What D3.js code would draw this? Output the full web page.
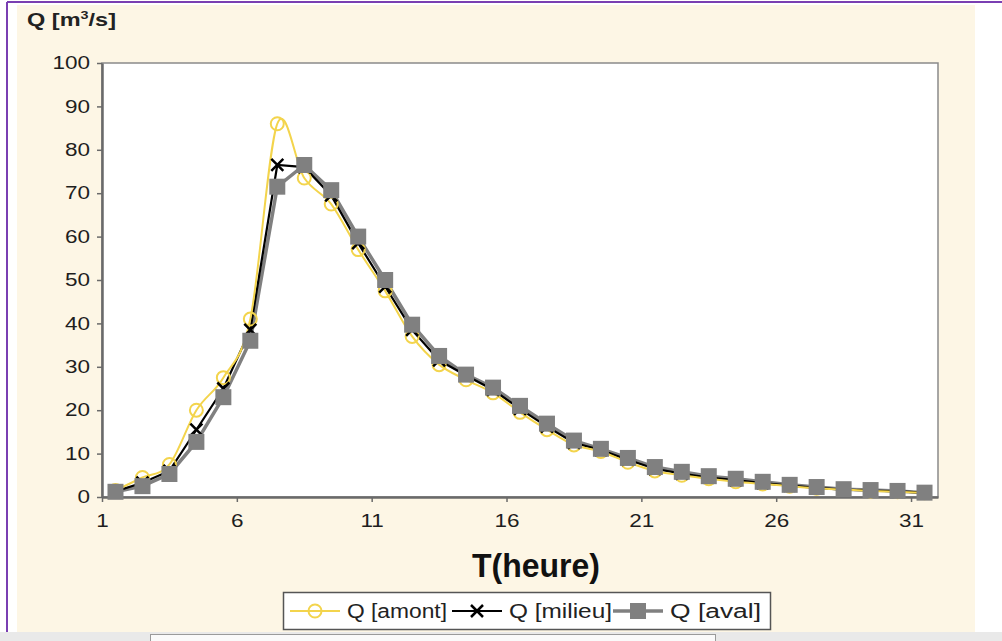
<!DOCTYPE html>
<html>
<head>
<meta charset="utf-8">
<script src="https://cdn.jsdelivr.net/npm/d3@7"></script>
<style>
  body { margin: 0; background: #fff; }
  svg { display: block; font-family: "Liberation Sans", Arial, sans-serif; }
</style>
</head>
<body>
<svg id="chart" width="1002" height="641"></svg>
<script>
'use strict';

// hours (points sit in the middle of each hourly category)
const hours = d3.range(1, 32);
const xTicks = [1, 6, 11, 16, 21, 26, 31];
const yTicks = d3.range(0, 101, 10);

const qAmont = [1.5, 4.5, 7.5, 20, 27.5, 41, 86, 73.5, 67.5, 57, 47.5, 37, 30.5, 27, 24, 19.5,
    15.5, 12, 10.5, 8, 6, 5, 4.2, 3.5, 3, 2.5, 2, 1.7, 1.4, 1.2, 1];
const qMilieu = [1.3, 3.3, 6, 15.5, 25, 38.5, 76.5, 76, 69.5, 58.5, 48.5, 38.5, 31.5, 28, 24.7, 20.3,
    16.2, 12.5, 10.8, 8.6, 6.5, 5.4, 4.5, 3.9, 3.2, 2.6, 2.1, 1.7, 1.5, 1.3, 1.0];
const qAval = [1.2, 2.5, 5.3, 12.7, 23, 36, 71.5, 76.5, 70.7, 60, 50, 39.7, 32.5, 28.2, 25.2, 21,
    16.9, 13, 11.1, 9, 6.9, 5.8, 4.8, 4.2, 3.5, 2.8, 2.3, 1.8, 1.6, 1.4, 1.0];

const COLORS = { amont: '#f3d44c', milieu: '#000000', aval: '#808080', axis: '#6a6a6a' };
const PLOT = { left: 102, right: 938, top: 63, bottom: 497 };

const svg = d3.select('#chart');

// the source picture is stretched sideways: widen text to match
function stretch(sel, factor) {
    sel.each(function () {
        const w = this.getComputedTextLength();
        d3.select(this).attr('textLength', w * factor).attr('lengthAdjust', 'spacingAndGlyphs');
    });
}

// page decoration (screenshot frame)
svg.append('rect').attr('x', 0).attr('y', 0).attr('width', 1002).attr('height', 641).attr('fill', '#fff');
svg.append('rect').attr('x', 17).attr('y', 5).attr('width', 958).attr('height', 627).attr('fill', '#fdf6e5');
svg.append('line').attr('x1', 7).attr('x2', 7).attr('y1', 2).attr('y2', 641)
    .attr('stroke', '#7a3fb2').attr('stroke-width', 2);
svg.append('line').attr('x1', 7).attr('x2', 1002).attr('y1', 2).attr('y2', 2)
    .attr('stroke', '#7a3fb2').attr('stroke-width', 2);
svg.append('rect').attr('x', 0).attr('y', 632).attr('width', 1002).attr('height', 9).attr('fill', '#e9e9e9');
svg.append('rect').attr('x', 150.5).attr('y', 634.5).attr('width', 565).attr('height', 10)
    .attr('fill', '#fafafa').attr('stroke', '#9a9a9a');

const x = d3.scaleLinear().domain([1, 32]).range([PLOT.left, PLOT.right]);
const y = d3.scaleLinear().domain([0, 100]).range([PLOT.bottom, PLOT.top]);

// plot area
svg.append('rect')
    .attr('x', PLOT.left).attr('y', PLOT.top)
    .attr('width', PLOT.right - PLOT.left).attr('height', PLOT.bottom - PLOT.top)
    .attr('fill', '#fff').attr('stroke', '#8a8a8a').attr('stroke-width', 1.5);

// axes
const yAxis = svg.append('g')
    .attr('transform', `translate(${PLOT.left},0)`)
    .call(d3.axisLeft(y).tickValues(yTicks).tickSize(5).tickSizeOuter(0).tickPadding(7));
const xAxis = svg.append('g')
    .attr('transform', `translate(0,${PLOT.bottom})`)
    .call(d3.axisBottom(x).tickValues(xTicks).tickSize(5).tickSizeOuter(0).tickPadding(12));

[yAxis, xAxis].forEach((ax) => {
    ax.select('.domain').attr('stroke', COLORS.axis).attr('stroke-width', 2.5);
    ax.selectAll('.tick line').attr('stroke', COLORS.axis).attr('stroke-width', 1.5);
    ax.selectAll('.tick text')
        .attr('fill', '#1e1e1e')
        .attr('font-size', 18)
        .attr('font-family', '"Liberation Sans", Arial, sans-serif')
        .call(stretch, 1.25);
});

// series
const pts = (vals) => vals.map((v, i) => [hours[i] + 0.5, v]);

const smooth = d3.line().x((d) => x(d[0])).y((d) => y(d[1])).curve(d3.curveCardinal.tension(0));
const straight = d3.line().x((d) => x(d[0])).y((d) => y(d[1]));

// aval: grey line with squares
svg.append('path').datum(pts(qAval))
    .attr('d', straight).attr('fill', 'none')
    .attr('stroke', COLORS.aval).attr('stroke-width', 3.5);

// milieu: black line
svg.append('path').datum(pts(qMilieu))
    .attr('d', straight).attr('fill', 'none')
    .attr('stroke', COLORS.milieu).attr('stroke-width', 2.2);

// amont: yellow smoothed line
svg.append('path').datum(pts(qAmont))
    .attr('d', smooth).attr('fill', 'none')
    .attr('stroke', COLORS.amont).attr('stroke-width', 2);

svg.append('g').selectAll('circle')
    .data(pts(qAmont))
    .join('circle')
    .attr('cx', (d) => x(d[0])).attr('cy', (d) => y(d[1]))
    .attr('r', 6.5)
    .attr('fill', 'none').attr('stroke', COLORS.amont).attr('stroke-width', 2);

function cross(g, cx, cy, s) {
    g.append('path')
        .attr('d', `M${cx - s},${cy - s}L${cx + s},${cy + s}M${cx - s},${cy + s}L${cx + s},${cy - s}`)
        .attr('stroke', COLORS.milieu).attr('stroke-width', 2.5).attr('fill', 'none');
}
const crossG = svg.append('g');
pts(qMilieu).forEach((d) => cross(crossG, x(d[0]), y(d[1]), 6));

svg.append('g').selectAll('rect')
    .data(pts(qAval))
    .join('rect')
    .attr('x', (d) => x(d[0]) - 8).attr('y', (d) => y(d[1]) - 8)
    .attr('width', 16).attr('height', 16)
    .attr('fill', COLORS.aval);

// titles
const yTitle = svg.append('text')
    .attr('x', 27).attr('y', 26)
    .attr('font-size', 18).attr('font-weight', 'bold').attr('fill', '#222');
yTitle.append('tspan').text('Q [m');
yTitle.append('tspan').attr('font-size', 11).attr('dy', -7).text('3');
yTitle.append('tspan').attr('dy', 7).text('/s]');
yTitle.attr('textLength', 89).attr('lengthAdjust', 'spacingAndGlyphs');

svg.append('text')
    .attr('x', 536).attr('y', 577)
    .attr('text-anchor', 'middle')
    .attr('font-size', 33).attr('font-weight', 'bold').attr('fill', '#111')
    .attr('textLength', 128).attr('lengthAdjust', 'spacingAndGlyphs')
    .text('T(heure)');

// legend
const legend = svg.append('g').attr('transform', 'translate(283,592)');
legend.append('rect').attr('x', 0.5).attr('y', 0.5).attr('width', 487).attr('height', 37)
    .attr('fill', '#fff').attr('stroke', '#555').attr('stroke-width', 1.5);

const legendItems = [
    { label: 'Q [amont]', color: COLORS.amont, x0: 7, marker: 'circle', w: 2, tl: 100 },
    { label: 'Q [milieu]', color: COLORS.milieu, x0: 169, marker: 'cross', w: 2, tl: 103 },
    { label: 'Q [aval]', color: COLORS.aval, x0: 330, marker: 'square', w: 3.5, tl: 91 },
];
legendItems.forEach((it) => {
    const cy = 19;
    legend.append('line').attr('x1', it.x0).attr('x2', it.x0 + 50).attr('y1', cy).attr('y2', cy)
        .attr('stroke', it.color).attr('stroke-width', it.w);
    const mx = it.x0 + 25;
    if (it.marker === 'circle') {
        legend.append('circle').attr('cx', mx).attr('cy', cy).attr('r', 6.5)
            .attr('fill', 'none').attr('stroke', it.color).attr('stroke-width', 2);
    } else if (it.marker === 'cross') {
        cross(legend, mx, cy, 6);
    } else {
        legend.append('rect').attr('x', mx - 8).attr('y', cy - 8).attr('width', 16).attr('height', 16)
            .attr('fill', it.color);
    }
    legend.append('text').attr('x', it.x0 + 57).attr('y', cy + 7)
        .attr('font-size', 20).attr('fill', '#222')
        .attr('textLength', it.tl).attr('lengthAdjust', 'spacingAndGlyphs')
        .text(it.label);
});
</script>
</body>
</html>
